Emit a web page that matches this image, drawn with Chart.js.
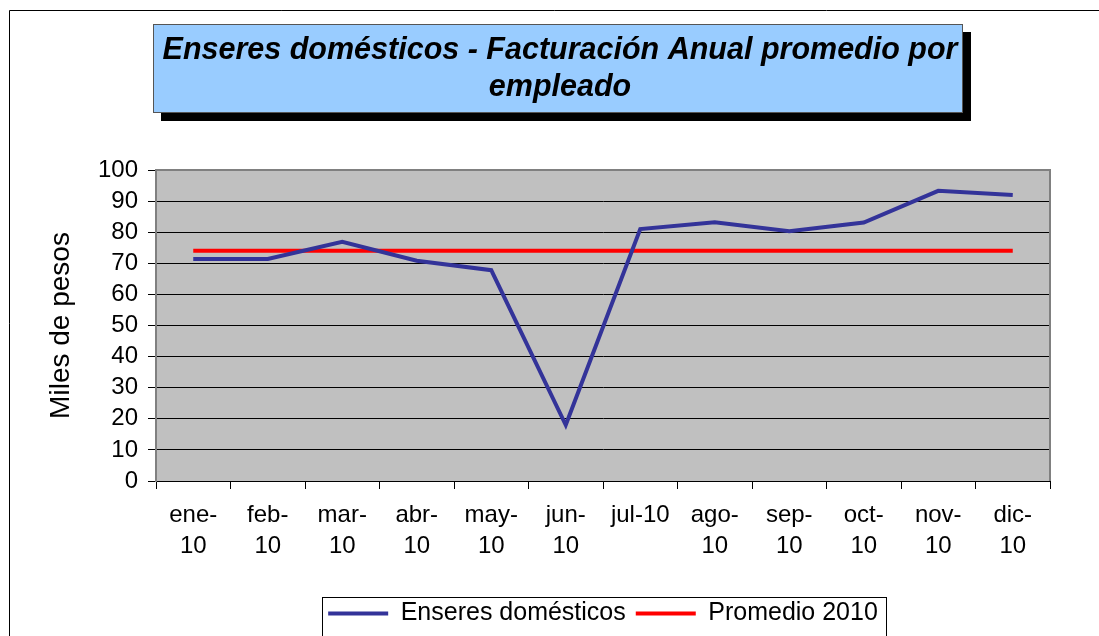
<!DOCTYPE html>
<html>
<head>
<meta charset="utf-8">
<script src="https://cdn.jsdelivr.net/npm/chart.js@4.4.0/dist/chart.umd.min.js"></script>
<style>
html, body { margin: 0; padding: 0; background: #fff; }
</style>
</head>
<body>
<canvas id="myChart" width="1099" height="636"></canvas>
<script>
const months = [['ene-', '10'], ['feb-', '10'], ['mar-', '10'], ['abr-', '10'], ['may-', '10'], ['jun-', '10'],
    'jul-10', ['ago-', '10'], ['sep-', '10'], ['oct-', '10'], ['nov-', '10'], ['dic-', '10']];
const enseres = [71.4, 71.4, 76.9, 70.8, 67.8, 18.0, 81.0, 83.2, 80.3, 83.1, 93.3, 92.0];
const promedio = [74, 74, 74, 74, 74, 74, 74, 74, 74, 74, 74, 74];
const seriesNames = ['Enseres domésticos', 'Promedio 2010'];
const titleLines = ['Enseres domésticos - Facturación Anual promedio por', 'empleado'];
const yAxisTitle = 'Miles de pesos';
const yMin = 0, yMax = 100, yStep = 10;

const FONT = '"Liberation Sans", Arial, sans-serif';
Chart.defaults.font.family = FONT;
Chart.defaults.color = '#000';

// page frame, title box and grey plot background
const backdrop = {
    id: 'backdrop',
    beforeDraw(chart) {
        const ctx = chart.ctx;
        const area = chart.chartArea;
        ctx.save();
        ctx.fillStyle = '#fff';
        ctx.fillRect(0, 0, chart.width, chart.height);

        ctx.strokeStyle = '#000';
        ctx.lineWidth = 1;
        ctx.beginPath();
        ctx.moveTo(9.5, chart.height);
        ctx.lineTo(9.5, 10.5);
        ctx.lineTo(chart.width, 10.5);
        ctx.stroke();

        // title box with shadow
        ctx.fillStyle = '#000';
        ctx.fillRect(161, 32, 810, 89);
        ctx.fillStyle = '#99ccff';
        ctx.fillRect(153, 24, 810, 89);
        ctx.strokeStyle = '#555';
        ctx.strokeRect(153.5, 24.5, 809, 88);

        ctx.fillStyle = '#000';
        ctx.font = 'italic bold 30.5px ' + FONT;
        ctx.textAlign = 'center';
        ctx.textBaseline = 'middle';
        ctx.fillText(titleLines[0], 560, 51);
        ctx.fillText(titleLines[1], 560, 88);

        ctx.fillStyle = '#c0c0c0';
        ctx.fillRect(area.left, area.top, area.right - area.left, area.bottom - area.top);
        ctx.restore();
    },
    beforeDatasetsDraw(chart) {
        const ctx = chart.ctx;
        const area = chart.chartArea;
        ctx.save();
        ctx.strokeStyle = '#808080';
        ctx.lineWidth = 2;
        ctx.beginPath();
        ctx.moveTo(area.left, area.top);
        ctx.lineTo(area.right, area.top);
        ctx.lineTo(area.right, area.bottom);
        ctx.stroke();
        ctx.restore();
    },
    afterDraw(chart) {
        const legend = chart.legend;
        if (!legend || !legend.legendHitBoxes.length) return;
        const boxes = legend.legendHitBoxes;
        const left = Math.min(...boxes.map(b => b.left)) - 6;
        const right = Math.max(...boxes.map(b => b.left + b.width)) + 8;
        const ctx = chart.ctx;
        ctx.save();
        ctx.strokeStyle = '#000';
        ctx.lineWidth = 1;
        ctx.strokeRect(Math.round(left) + 0.5, Math.round(legend.top + 6) + 0.5, Math.round(right - left), 60);
        ctx.restore();
    }
};

new Chart(document.getElementById('myChart'), {
    type: 'line',
    data: {
        labels: months,
        datasets: [{
            label: seriesNames[0],
            data: enseres,
            borderColor: '#333399',
            backgroundColor: '#333399',
            borderWidth: 4,
            pointRadius: 0,
            tension: 0
        }, {
            label: seriesNames[1],
            data: promedio,
            borderColor: '#ff0000',
            backgroundColor: '#ff0000',
            borderWidth: 4,
            pointRadius: 0,
            tension: 0
        }]
    },
    options: {
        responsive: false,
        animation: false,
        layout: { padding: { left: 10, right: 49, top: 170, bottom: 0 } },
        scales: {
            x: {
                offset: true,
                grid: { offset: true, drawOnChartArea: false, color: '#000', tickLength: 8 },
                border: { color: '#000', width: 1 },
                ticks: {
                    autoSkip: false, maxRotation: 0, padding: 11,
                    font: { size: 24, lineHeight: 1.3 }, color: '#000'
                },
                afterFit: (scale) => { scale.height = 110; }
            },
            y: {
                min: yMin,
                max: yMax,
                grid: { color: '#000', lineWidth: 1, tickLength: 8 },
                border: { color: '#808080', width: 2 },
                ticks: {
                    stepSize: yStep, autoSkip: false, padding: 10,
                    font: { size: 24, lineHeight: 1 }, color: '#000'
                },
                title: {
                    display: true, text: yAxisTitle, color: '#000',
                    font: { size: 28 }, padding: { top: 34, bottom: 0 }
                },
                afterFit: (scale) => { scale.width = 146; }
            }
        },
        plugins: {
            title: { display: false },
            tooltip: { enabled: false },
            legend: {
                position: 'bottom',
                fullSize: false,
                labels: {
                    usePointStyle: true,
                    pointStyle: 'line',
                    pointStyleWidth: 60,
                    padding: 10,
                    color: '#000',
                    font: { size: 25 }
                }
            }
        }
    },
    plugins: [backdrop]
});
</script>
</body>
</html>
